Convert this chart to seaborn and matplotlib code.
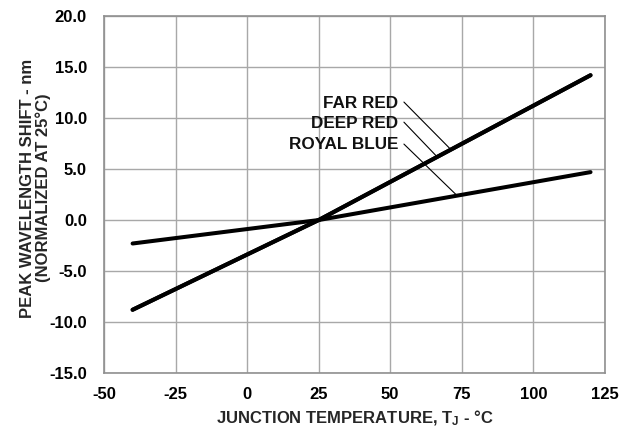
import matplotlib
matplotlib.use("Agg")
import matplotlib.pyplot as plt
import seaborn as sns
import pandas as pd

# Data
temps = [-40, 25, 120]
far_red = [-8.8, 0.0, 14.2]
deep_red = [-8.8, 0.0, 14.2]
royal_blue = [-2.3, 0.0, 4.7]

series_names = ["FAR RED", "DEEP RED", "ROYAL BLUE"]
x_ticks = [-50, -25, 0, 25, 50, 75, 100, 125]
y_ticks = [-15, -10, -5, 0, 5, 10, 15, 20]

df = pd.DataFrame({
    "temp": temps * 3,
    "shift": far_red + deep_red + royal_blue,
    "series": [series_names[0]] * 3 + [series_names[1]] * 3 + [series_names[2]] * 3,
})

sns.set_theme(style="white")
plt.rcParams["font.family"] = ["Liberation Sans", "DejaVu Sans"]
plt.rcParams["font.weight"] = "bold"
plt.rcParams["mathtext.default"] = "bf"
plt.rcParams["mathtext.fontset"] = "custom"
plt.rcParams["mathtext.bf"] = "Liberation Sans:bold"

fig = plt.figure(figsize=(6.34, 4.29), dpi=100)
ax = fig.add_axes([0.164, 0.1305, 0.790, 0.832])

sns.lineplot(data=df, x="temp", y="shift", hue="series",
             palette=["black", "black", "black"], linewidth=2.9,
             legend=False, ax=ax, zorder=3)

ax.set_xlim(-50, 125)
ax.set_ylim(-15, 20)
ax.set_xticks(x_ticks)
ax.set_yticks(y_ticks)
ax.set_xticklabels([str(v) for v in x_ticks], fontsize=12, fontweight="bold")
ax.set_yticklabels([f"{v:.1f}" for v in y_ticks], fontsize=12, fontweight="bold")
ax.tick_params(axis="both", length=0, colors="black")
ax.tick_params(axis="x", pad=10.3)
ax.tick_params(axis="y", pad=12.4)
ax.grid(True, color="#a8a8a8", linewidth=1.0)
for s in ax.spines.values():
    s.set_color("#909090")
    s.set_linewidth(1.2)

ax.set_xlabel("JUNCTION TEMPERATURE, T$_{J}$ - °C", fontsize=12,
              fontweight="bold", labelpad=4.5)
ax.set_ylabel("PEAK WAVELENGTH SHIFT - nm\n(NORMALIZED AT 25°C)", fontsize=12,
              fontweight="bold", linespacing=1.05)
ax.yaxis.set_label_coords(-0.106, 0.518)

# Annotations with leader lines
label_pos = [(52.9, 10.98), (52.9, 9.02), (52.9, 6.96)]
leader = [((54.8, 11.57), (70.9, 7.0)),
          ((54.8, 9.6), (66.4, 6.2)),
          ((54.8, 7.45), (73.0, 2.5))]
for name, (tx, ty), (p0, p1) in zip(series_names, label_pos, leader):
    ax.text(tx, ty, name, ha="right", va="baseline", fontsize=12.3,
            fontweight="bold", color="#111111", zorder=4)
    ax.plot([p0[0], p1[0]], [p0[1], p1[1]], color="black", linewidth=0.8, zorder=4)

fig.savefig("out.png", dpi=100)
